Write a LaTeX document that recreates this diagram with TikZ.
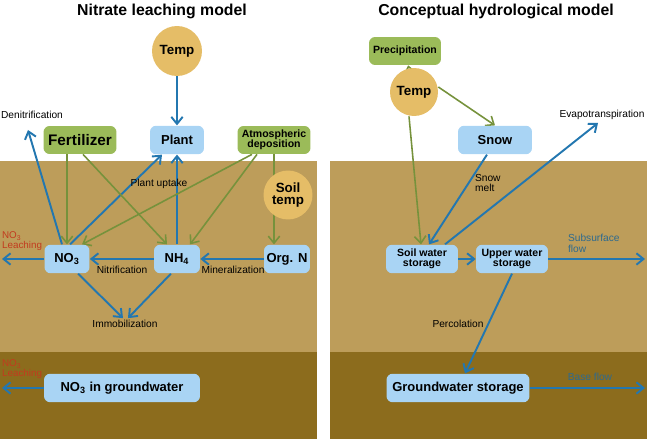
\documentclass[tikz,border=0pt]{standalone}
\usepackage{fontspec}
\setmainfont{Liberation Sans}
\usetikzlibrary{arrows.meta}
\definecolor{soil}{HTML}{BD9D5A}
\definecolor{deep}{HTML}{8C6C1D}
\definecolor{pool}{HTML}{A9D4F4}
\definecolor{input}{HTML}{9BBB59}
\definecolor{heat}{HTML}{E5BD67}
\definecolor{flowb}{HTML}{2377B0}
\definecolor{flowg}{HTML}{76923C}
\definecolor{leach}{HTML}{C23B1E}
\definecolor{outflow}{HTML}{2E6A8E}
\pgfdeclarelayer{ground}
\pgfdeclarelayer{links}
\pgfsetlayers{ground,links,main}

\begin{document}
\begin{tikzpicture}[x=0.02cm, y=-0.02cm, >={Straight Barb[length=4pt,width=6.5pt]},
    b/.style={rounded corners=3.5pt, align=center, inner sep=1pt, font=\fontsize{7.4}{8}\selectfont\bfseries},
    sm/.style={font=\fontsize{6}{5.6}\selectfont\bfseries},
    pool/.style={b, fill=pool, minimum height=0.57cm},
    src/.style={b, fill=input, minimum height=0.56cm},
    hot/.style={circle, fill=heat, align=center, inner sep=0pt, font=\fontsize{7.6}{6.4}\selectfont\bfseries},
    lbl/.style={font=\fontsize{5.8}{6.2}\selectfont, inner sep=1pt, align=center},
    red/.style={lbl, text=leach, align=left, anchor=west, font=\fontsize{5.6}{5.4}\selectfont},
    bflow/.style={->, draw=flowb, line width=1.1pt},
    gflow/.style={->, draw=flowg, line width=0.9pt}]

    \useasboundingbox (0,0) rectangle (647,439);
    \begin{pgfonlayer}{ground}
      \foreach \x in {0,330} {
        \fill[soil] (\x,161) rectangle ++(317,191);
        \fill[deep] (\x,352) rectangle ++(317,87);
      }
    \end{pgfonlayer}

    \node[font=\fontsize{9}{10}\selectfont\bfseries] (head1) at (162,11) {Nitrate leaching model};
    \node[font=\fontsize{9}{10}\selectfont\bfseries] (head2) at (496,11) {Conceptual hydrological model};

    \node[hot, minimum size=1.0cm]   (temp)  at (177,51)  {Temp};
    \node[pool, minimum width=1.08cm] (plant) at (177,140) {Plant};
    \node[src, minimum width=1.46cm, font=\fontsize{8.7}{9}\selectfont\bfseries] (fert) at (80,140) {Fertilizer};
    \node[src, sm, minimum width=1.46cm] (atmos) at (274,140) {Atmospheric\\deposition};
    \node[hot, minimum size=0.98cm]  (stemp) at (288,195) {Soil\\temp};
    \node[pool, minimum width=0.9cm]  (no3)   at (67,259)  {NO\textsubscript{3}};
    \node[pool, minimum width=0.92cm] (nh4)   at (177,259) {NH\textsubscript{4}};
    \node[pool, minimum width=0.92cm] (orgn)  at (287,259) {Org. N};
    \node[pool, minimum width=3.12cm] (no3gw) at (122,388) {NO\textsubscript{3} in groundwater};

    \node[lbl] (denit)  at (32,115)  {Denitrification};
    \node[lbl] (uptake) at (159,184) {Plant uptake};
    \node[lbl] (nitr)   at (122,270) {Nitrification};
    \node[lbl] (miner)  at (233,270) {Mineralization};
    \node[lbl] (immob)  at (125,324) {Immobilization};
    \node[red] (leach1) at (0,241) {NO\textsubscript{3}\\Leaching};
    \node[red] (leach2) at (0,369) {NO\textsubscript{3}\\Leaching};
    \coordinate (dn)  at (28,130);
    \coordinate (lc1) at (2,259);
    \coordinate (lc2) at (2,388);

    \node[src, sm, minimum width=1.44cm] (precip) at (405,51) {Precipitation};
    \node[hot, minimum size=0.96cm]   (temp2) at (414,92)  {Temp};
    \node[pool, minimum width=1.48cm] (snow)  at (495,140) {Snow};
    \node[pool, sm, minimum width=1.44cm] (soilw) at (422,259) {Soil water\\storage};
    \node[pool, sm, minimum width=1.44cm] (upper) at (512,259) {Upper water\\storage};
    \node[pool, minimum width=2.86cm] (gw)    at (458,388) {Groundwater storage};

    \node[lbl] (evap) at (602,115) {Evapotranspiration};
    \node[lbl, align=left, anchor=west] (melt) at (473,183) {Snow\\melt};
    \node[lbl, text=outflow, align=left, anchor=west] (subs) at (566,243) {Subsurface\\flow};
    \node[lbl, text=outflow] (base) at (590,377) {Base flow};
    \node[lbl] (perc) at (458,324) {Percolation};
    \coordinate (ev)  at (598,123);
    \coordinate (rc1) at (645,259);
    \coordinate (rc2) at (645,388);

    \begin{pgfonlayer}{links}
      \draw[bflow] (temp) -- (plant);
      \draw[bflow] (nh4) -- (plant);
      \draw[bflow] ([xshift=-0.1cm]no3.north) -- (dn);
      \draw[bflow] ([xshift=0.06cm]no3.north) -- ([xshift=-0.3cm]plant.south);
      \foreach \a/\b in {orgn/nh4, nh4/no3} \draw[bflow] (\a.west) -- (\b.east);
      \draw[bflow] (no3.west) -- (lc1);
      \draw[bflow] (no3gw.west) -- (lc2);
      \draw[bflow] ([xshift=0.22cm]no3.south) -- ([xshift=-0.04cm]immob.north);
      \draw[bflow] ([xshift=-0.12cm]nh4.south) -- ([xshift=0.06cm]immob.north);
      \draw[gflow] (no3.north |- fert.south) -- (no3.north);
      \draw[gflow] ([xshift=0.06cm]fert.south) -- ([xshift=-0.2cm]nh4.north);
      \draw[gflow] ([xshift=-0.44cm]atmos.south) -- ([xshift=0.3cm]no3.north);
      \draw[gflow] ([xshift=-0.34cm]atmos.south) -- ([xshift=0.26cm]nh4.north);
      \draw[gflow] (atmos.south) -- (atmos.south |- orgn.north);

      \draw[gflow] (temp2) -- (precip);
      \draw[gflow] ([yshift=0.1cm]temp2.east) -- (snow.north);
      \draw[gflow] ([xshift=-0.1cm]temp2.south) -- ([xshift=-0.02cm]soilw.north);
      \draw[bflow] ([xshift=-0.16cm]snow.south) -- ([xshift=0.14cm]soilw.north);
      \draw[bflow] ([xshift=0.46cm]soilw.north) -- (ev);
      \draw[bflow] (soilw) -- (upper);
      \draw[bflow] (upper.east) -- (rc1);
      \draw[bflow] (upper.south) -- ([xshift=0.14cm]gw.north);
      \draw[bflow] (gw.east) -- (rc2);
    \end{pgfonlayer}
  \end{tikzpicture}
\end{document}
